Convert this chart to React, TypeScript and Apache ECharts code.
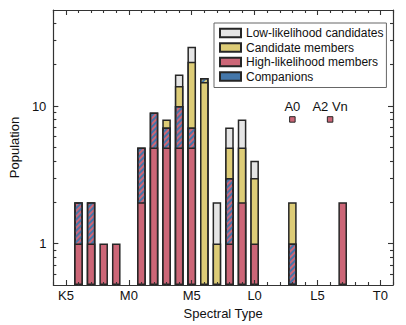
import React, { useEffect, useRef } from 'react';
import * as echarts from 'echarts';

// Spectral type positions (K5 = 0, M0 = 5, M5 = 10, L0 = 15, L5 = 20, T0 = 25)
const spectralPos = [1, 2, 3, 4, 6, 7, 8, 9, 10, 11, 12, 13, 14, 15, 18, 22];
const highMembers = [1, 1, 1, 1, 2, 5, 5, 5, 5, 0, 0, 1, 2, 1, 0, 2];
const highCompanions = [1, 1, 0, 0, 3, 4, 2, 5, 2, 0, 0, 2, 0, 0, 1, 0];
const candidateMembers = [0, 0, 0, 0, 0, 0, 1, 4, 14, 15, 1, 2, 3, 2, 1, 0];
const candidateCompanions = [0, 0, 0, 0, 0, 0, 0, 0, 0, 1, 0, 0, 0, 0, 0, 0];
const lowCandidates = [0, 0, 0, 0, 0, 0, 0, 3, 6, 0, 1, 2, 3, 1, 0, 0];

const tickPos = [0, 5, 10, 15, 20, 25];
const tickLabels = ['K5', 'M0', 'M5', 'L0', 'L5', 'T0'];

const earlyTypes = ['A0', 'A2 Vn'];
const earlyPos = [18, 21];
const earlyCount = [8, 8];

const RED = '#CC6677';
const YELLOW = '#DDCC77';
const GREY = '#E5E5E5';
const BLUE = '#4477AA';
const EDGE = '#262626';
const AXIS = '#333333';
const FONT = "'Liberation Sans', Arial, Helvetica, sans-serif";
const FS = 13;

export default function App() {
  const ref = useRef<HTMLDivElement>(null);
  useEffect(() => {
    if (!ref.current) return;
    const chart = echarts.init(ref.current, undefined, { renderer: 'svg' });

    const cum1 = highMembers.slice();
    const cum2 = cum1.map((v, i) => v + highCompanions[i]);
    const cum3 = cum2.map((v, i) => v + candidateMembers[i]);
    const cum4 = cum3.map((v, i) => v + candidateCompanions[i]);
    const cum5 = cum4.map((v, i) => v + lowCandidates[i]);

    const seg = (cum: number[], part: number[]) =>
      spectralPos.map((x, i) => [x, part[i] > 0 ? cum[i] : '-']);

    const hatch = (c: string) => ({
      symbol: 'rect',
      symbolSize: 1,
      dashArrayX: [1, 0],
      dashArrayY: [1.4, 1.8],
      rotation: -Math.PI / 4,
      color: c,
    });

    const bar = (name: string, data: any[], color: string, z: number, decal?: any) => ({
      type: 'bar',
      name,
      xAxisIndex: 0,
      yAxisIndex: 0,
      barWidth: 8.6,
      barGap: '-100%',
      z,
      emphasis: { disabled: true },
      itemStyle: decal
        ? { color, borderColor: EDGE, borderWidth: 1.5, decal }
        : { color, borderColor: EDGE, borderWidth: 1.5 },
      data,
    });

    const minorX: number[] = [];
    for (let v = -1; v <= 26; v++) if (v % 5 !== 0) minorX.push(v);
    const minorY = [0.6, 0.7, 0.8, 0.9, 2, 3, 4, 5, 6, 7, 8, 9, 20, 30, 40];
    const majorY = [1, 10];

    const axisLine = { show: true, onZero: false, lineStyle: { color: AXIS, width: 1.2 } };
    const noLine = { show: false, onZero: false };
    const tickStyle = { color: AXIS, width: 1.1 };

    const xBase = { type: 'value', min: -1, max: 26, splitLine: { show: false }, z: 10 };
    const yBase = {
      type: 'log',
      logBase: 10,
      min: 0.5,
      max: 50,
      startValue: 0.5,
      splitLine: { show: false },
      z: 10,
    };

    const option: any = {
      animation: false,
      grid: { left: 52, top: 10, width: 341, height: 275 },
      legend: {
        orient: 'vertical',
        left: 214,
        top: 23,
        z: 20,
        padding: [4, 3, 5, 5],
        itemWidth: 21,
        itemHeight: 8.5,
        itemGap: 2.5,
        borderColor: '#666',
        borderWidth: 1,
        backgroundColor: '#fff',
        selectedMode: false,
        icon: 'rect',
        textStyle: { fontSize: 12, color: '#111', fontFamily: FONT },
        data: ['Low-likelihood candidates', 'Candidate members', 'High-likelihood members', 'Companions'],
      },
      xAxis: [
        {
          ...xBase,
          position: 'bottom',
          axisLine,
          axisTick: { show: true, inside: true, length: 5, customValues: tickPos, lineStyle: tickStyle },
          axisLabel: {
            customValues: tickPos,
            formatter: (v: number) => tickLabels[tickPos.indexOf(v)] ?? '',
            margin: 4,
            fontSize: FS,
            color: '#111',
            fontFamily: FONT,
          },
          name: 'Spectral Type',
          nameLocation: 'middle',
          nameGap: 17,
          nameTextStyle: { fontSize: FS, color: '#111', fontFamily: FONT },
        },
        {
          ...xBase,
          position: 'bottom',
          axisLine: noLine,
          axisTick: { show: true, inside: true, length: 3, customValues: minorX, lineStyle: tickStyle },
          axisLabel: { show: false },
        },
        {
          ...xBase,
          position: 'top',
          axisLine,
          axisTick: { show: true, inside: true, length: 5, customValues: tickPos, lineStyle: tickStyle },
          axisLabel: { show: false },
        },
        {
          ...xBase,
          position: 'top',
          axisLine: noLine,
          axisTick: { show: true, inside: true, length: 3, customValues: minorX, lineStyle: tickStyle },
          axisLabel: { show: false },
        },
      ],
      yAxis: [
        {
          ...yBase,
          position: 'left',
          axisLine,
          axisTick: { show: true, inside: true, length: 5, customValues: majorY, lineStyle: tickStyle },
          axisLabel: {
            customValues: majorY,
            formatter: (v: number) => String(v),
            margin: 7,
            fontSize: FS,
            color: '#111',
            fontFamily: FONT,
          },
          name: 'Population',
          nameLocation: 'middle',
          nameGap: 28,
          nameTextStyle: { fontSize: FS, color: '#111', fontFamily: FONT },
        },
        {
          ...yBase,
          position: 'left',
          axisLine: noLine,
          axisTick: { show: true, inside: true, length: 3, customValues: minorY, lineStyle: tickStyle },
          axisLabel: { show: false },
        },
        {
          ...yBase,
          position: 'right',
          axisLine,
          axisTick: { show: true, inside: true, length: 5, customValues: majorY, lineStyle: tickStyle },
          axisLabel: { show: false },
        },
        {
          ...yBase,
          position: 'right',
          axisLine: noLine,
          axisTick: { show: true, inside: true, length: 3, customValues: minorY, lineStyle: tickStyle },
          axisLabel: { show: false },
        },
      ],
      series: [
        bar('Low-likelihood candidates', seg(cum5, lowCandidates), GREY, 2),
        bar('Candidate companions', seg(cum4, candidateCompanions), YELLOW, 3, hatch(BLUE)),
        bar('Candidate members', seg(cum3, candidateMembers), YELLOW, 4),
        bar('High-likelihood companions', seg(cum2, highCompanions), RED, 5, hatch(BLUE)),
        bar('High-likelihood members', seg(cum1, highMembers), RED, 6),
        bar('Companions', [], BLUE, 6),
        {
          type: 'scatter',
          name: 'Early types',
          xAxisIndex: 0,
          yAxisIndex: 0,
          symbol: 'rect',
          symbolSize: 5.5,
          z: 7,
          emphasis: { disabled: true },
          itemStyle: { color: RED, borderColor: EDGE, borderWidth: 1, opacity: 1 },
          label: {
            show: true,
            position: 'top',
            distance: 3,
            formatter: '{b}',
            fontSize: FS,
            color: '#111',
            opacity: 1,
            fontFamily: FONT,
          },
          data: earlyPos.map((x, i) => ({ name: earlyTypes[i], value: [x, earlyCount[i]] })),
        },
      ],
    };

    chart.setOption(option);
    return () => chart.dispose();
  }, []);

  return (
    <div
      ref={ref}
      style={{ position: 'fixed', left: 0, top: 0, width: 406, height: 325, background: '#fff' }}
    />
  );
}
